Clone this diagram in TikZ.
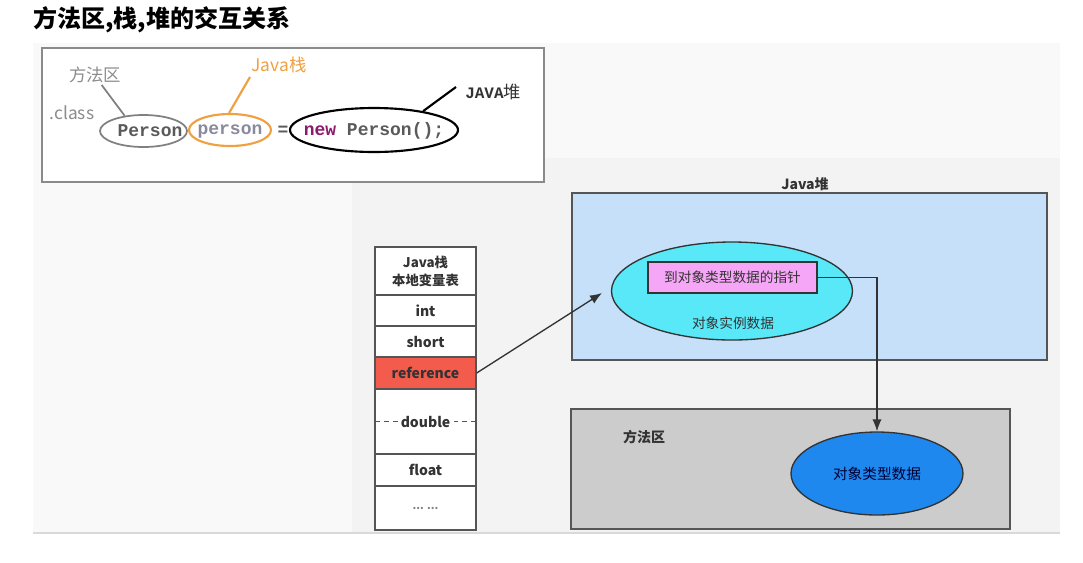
\documentclass[tikz,border=0pt]{standalone}
\usepackage{fontspec}
\setmainfont{Noto Sans CJK SC}
\newfontfamily\cjk{Noto Sans CJK SC}
\newfontfamily\codefont{Liberation Mono}
\usetikzlibrary{arrows.meta,shapes.geometric}
\definecolor{panelbg}{HTML}{F9F9F9}
\definecolor{panelbg2}{HTML}{F3F3F3}
\definecolor{boxedge}{HTML}{8A8A8A}
\definecolor{labgray}{HTML}{8C8C8C}
\definecolor{orangec}{HTML}{F0A040}
\definecolor{newc}{HTML}{8B1A6B}
\definecolor{codegray}{HTML}{5A5A5A}
\definecolor{persongray}{HTML}{8A8A9E}
\definecolor{edge}{HTML}{555555}
\definecolor{heapfill}{HTML}{C6E0F9}
\definecolor{cyanfill}{HTML}{58E8F8}
\definecolor{pinkfill}{HTML}{F6A6F6}
\definecolor{mafill}{HTML}{CCCCCC}
\definecolor{bluefill}{HTML}{1E88EE}
\definecolor{redfill}{HTML}{F35B4C}
\definecolor{txtdark}{HTML}{333333}
\tikzset{
  cell/.style={draw=edge, line width=1pt, fill=white, minimum width=75.75pt, inner sep=0pt,
    font=\cjk\bfseries\fontsize{10.5}{13.5}\selectfont, text=txtdark, align=center},
  codetxt/.style={inner sep=0pt, font=\codefont\bfseries\fontsize{13.5}{16}\selectfont},
  toplab/.style={inner sep=0pt, font=\cjk\fontsize{13}{15}\selectfont},
  oval/.style={ellipse, inner sep=0pt},
  conn/.style={draw=txtdark, line width=1pt},
  tip/.style={-{Latex[length=9pt,width=7pt]}},
  smalltxt/.style={inner sep=0pt, text=txtdark, font=\cjk\fontsize{10.25}{12}\selectfont},
}
\begin{document}
\begin{tikzpicture}[x=0.75pt,y=-0.75pt]
\useasboundingbox (0,0) rectangle (1083,562);
\fill[white] (0,0) rectangle (1083,562);
% title
\node[inner sep=0pt, font=\cjk\bfseries\fontsize{18}{20}\selectfont, anchor=west] (title) at (33,20) {方法区,栈,堆的交互关系};
% panel background
\fill[panelbg] (33,43) rectangle (1060,533);
\fill[panelbg2] (352,158) rectangle (1060,533);
\draw[draw=black!15, line width=1pt] (33,533) -- (1060,533);
% top code box
\draw[draw=boxedge, fill=white, line width=1.5pt] (42,48) rectangle (544,182);
\node[toplab, text=labgray] (lblma) at (95,75) {方法区};
\node[toplab, text=labgray] (lblclass) at (72,113) {.class};
\node[toplab, text=orangec] (lblstack) at (279,65) {Java栈};
\node[toplab, text=txtdark, anchor=west] (lblheap) at (465,92) {{\codefont\bfseries\fontsize{12}{14}\selectfont JAVA}堆};
\node[codetxt, text=codegray] (ptype) at (150,131) {Person};
\node[oval, draw=gray, line width=1.3pt, minimum width=65.25pt, minimum height=24pt] (eclass) at (143.5,131) {};
\node[oval, draw=orangec, line width=1.6pt, minimum width=61.5pt, minimum height=24pt] (eperson) at (230,130) {};
\node[codetxt, text=persongray] (pvar) at (230,131.5) {person};
\node[codetxt, text=codegray] (eq) at (283,131) {=};
\node[oval, draw=black, line width=1.6pt, minimum width=126pt, minimum height=33pt] (enew) at (374,130) {};
\node[codetxt, text=codegray] (pnew) at (374,131) {{\color{newc}new} Person();};
\coordinate (cma) at (101.7,85);
\coordinate (cst) at (250,77);
\coordinate (chp) at (456,87);
\draw[draw=gray, line width=1.3pt] (cma) -- (eclass.141);
\draw[draw=orangec, line width=1.6pt] (cst) -- (eperson.93);
\draw[draw=black, line width=1.6pt] (chp) -- (enew.21);
% stack column
\node[cell, minimum height=36pt, font=\cjk\bfseries\fontsize{10}{13.5}\selectfont] (head) at (425.5,271) {Java栈\\本地变量表};
\node[cell, minimum height=23.25pt] (int) at (425.5,310.5) {int};
\node[cell, minimum height=23.25pt] (short) at (425.5,341.5) {short};
\node[cell, minimum height=24pt, fill=redfill] (ref) at (425.5,373) {reference};
\node[cell, minimum height=48.75pt] (dbl) at (425.5,421.5) {double};
\node[cell, minimum height=24pt] (flt) at (425.5,470) {float};
\node[cell, minimum height=33pt, font=\cjk\bfseries\fontsize{8}{10}\selectfont, text=gray] (dots) at (425.5,508) {... ...};
\draw[draw=edge, line width=1.3pt, dash pattern=on 4pt off 3pt] (dbl.west) -- ++(24,0);
\draw[draw=edge, line width=1.3pt, dash pattern=on 4pt off 3pt] (dbl.east) -- ++(-23,0);
% heap
\node[smalltxt, font=\cjk\bfseries\fontsize{10.5}{12}\selectfont] (heaplab) at (805,184) {Java堆};
\node[draw=edge, line width=1.3pt, fill=heapfill, minimum width=356.25pt, minimum height=125.25pt, inner sep=0pt] (heap) at (809.5,276.5) {};
\node[oval, draw=txtdark, line width=1pt, fill=cyanfill, minimum width=180.75pt, minimum height=73.5pt] (inst) at (732,291) {};
\node[draw=txtdark, line width=1pt, fill=pinkfill, minimum width=126.75pt, minimum height=23.25pt, inner sep=0pt, font=\cjk\fontsize{10.25}{12}\selectfont, text=txtdark] (ptr) at (732.5,277.5) {到对象类型数据的指针};
\node[smalltxt] (instlab) at (733,323) {对象实例数据};
% method area
\node[draw=edge, line width=1.3pt, fill=mafill, minimum width=329.25pt, minimum height=90pt, inner sep=0pt] (ma) at (790.5,469) {};
\node[smalltxt, font=\cjk\bfseries\fontsize{10.5}{12}\selectfont] (malab) at (644,437) {方法区};
\node[oval, draw=txtdark, line width=1pt, fill=bluefill, minimum width=129pt, minimum height=62.25pt, font=\cjk\fontsize{11}{13}\selectfont, text=black!80!blue] (tdata) at (877,473.5) {对象类型数据};
% connectors
\coordinate (reftip) at (602,293);
\draw[conn, tip] (ref.east) -- (reftip);
\draw[conn, tip] (ptr.east) -| (tdata.north);
\end{tikzpicture}
\end{document}
